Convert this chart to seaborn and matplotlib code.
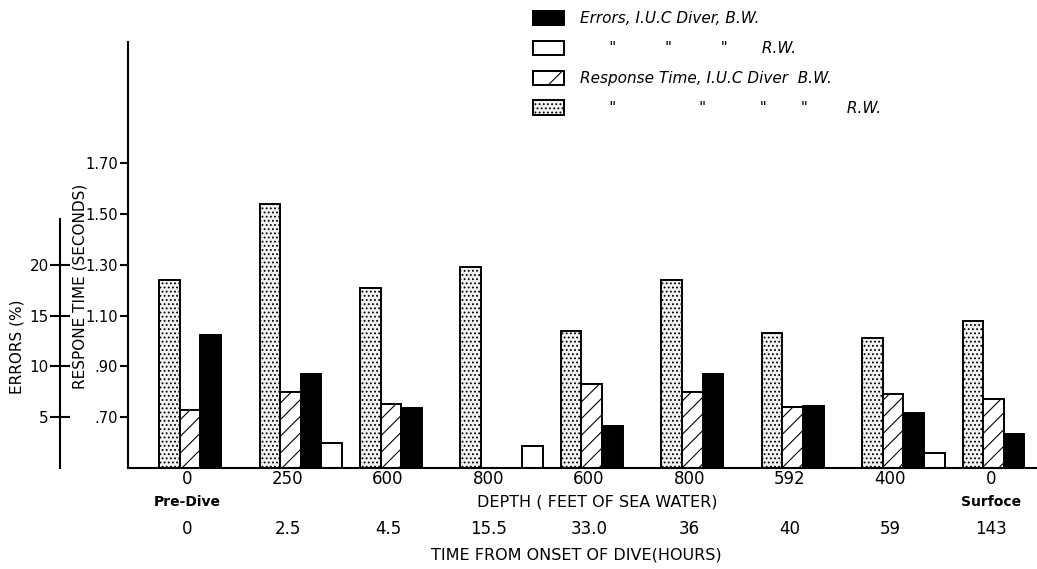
import numpy as np
import pandas as pd
import matplotlib
matplotlib.use("Agg")
import matplotlib.pyplot as plt
import matplotlib.patches as mpatches
import matplotlib.transforms as mtransforms
import seaborn as sns

# valores
depth_labels = ["0", "250", "600", "800", "600", "800", "592", "400", "0"]
depth_notes = ["Pre-Dive", "", "", "", "", "", "", "", "Surfoce"]
time_labels = ["0", "2.5", "4.5", "15.5", "33.0", "36", "40", "59", "143"]

# tiempo de respuesta (segundos)
rt_rw = [1.24, 1.54, 1.21, 1.29, 1.04, 1.24, 1.03, 1.01, 1.08]
rt_bw = [0.73, 0.80, 0.75, np.nan, 0.83, 0.80, 0.74, 0.79, 0.77]
# errores (%)
err_bw = [13.1, 9.3, 5.9, np.nan, 4.1, 9.3, 6.1, 5.4, 3.3]
err_rw = [np.nan, 2.5, np.nan, 2.2, np.nan, np.nan, np.nan, 1.5, np.nan]

series_names = ["rt_rw", "rt_bw", "err_bw", "err_rw"]


# 0 % de error coincide con 0.50 s, 5 % equivale a 0.20 s
def err_to_rt(e):
    return 0.5 + np.asarray(e, dtype=float) / 25.0


def rt_to_err(t):
    return (np.asarray(t, dtype=float) - 0.5) * 25.0


df = pd.DataFrame({
    "time": time_labels * 4,
    "serie": np.repeat(series_names, len(time_labels)),
    "valor": np.concatenate([rt_rw, rt_bw, err_to_rt(err_bw), err_to_rt(err_rw)]),
})

sns.set_style("white")
plt.rcParams["font.family"] = ["DejaVu Sans"]
plt.rcParams["hatch.linewidth"] = 0.8
for clave in ["text.color", "axes.labelcolor", "xtick.color", "ytick.color"]:
    plt.rcParams[clave] = "black"

fig = plt.figure(figsize=(10.37, 5.69), dpi=100)
ax = fig.add_axes([0.1231, 0.1775, 0.8769, 0.7487])

estilos = {
    "rt_rw": dict(face="#f2f2f2", hatch="...."),
    "rt_bw": dict(face="white", hatch="//"),
    "err_bw": dict(face="black", hatch=None),
    "err_rw": dict(face="white", hatch=None),
}

sns.barplot(
    data=df, x="time", y="valor", hue="serie",
    order=time_labels, hue_order=series_names,
    palette={k: v["face"] for k, v in estilos.items()},
    width=0.82, edgecolor="black", linewidth=1.4,
    saturation=1, legend=False, ax=ax,
)
for cont, nombre in zip(ax.containers, series_names):
    for barra in cont:
        barra.set_facecolor(estilos[nombre]["face"])
        if estilos[nombre]["hatch"]:
            barra.set_hatch(estilos[nombre]["hatch"])

ax.set_xlim(-0.723, 8.33)
ax.set_ylim(0.5, 2.177)
ax.set_xlabel("")
ax.set_ylabel("")
ax.set_xticks([])
sns.despine(ax=ax, top=True, right=True)
for lado in ["left", "bottom"]:
    ax.spines[lado].set_color("black")
    ax.spines[lado].set_linewidth(1.5)

rt_ticks = [0.70, 0.90, 1.10, 1.30, 1.50, 1.70]
ax.set_yticks(rt_ticks)
ax.set_yticklabels([".70", ".90", "1.10", "1.30", "1.50", "1.70"], fontsize=10.5)
ax.tick_params(axis="y", direction="out", length=6, width=1.5, color="black", pad=1, left=True)

# eje secundario de errores
sec = ax.secondary_yaxis(-0.0744, functions=(rt_to_err, err_to_rt))
sec.set_yticks([5, 10, 15, 20])
sec.set_yticklabels(["5", "10", "15", "20"], fontsize=11)
sec.tick_params(axis="y", direction="inout", length=14, width=1.5, color="black", pad=1)
sec.spines["left"].set_bounds(0, 24.5)
sec.spines["left"].set_linewidth(1.5)
sec.spines["left"].set_color("black")

fig.text(80 / 1037, 1 - 286 / 569, "RESPONE TIME (SECONDS)", rotation=90,
         ha="center", va="center", fontsize=11)
fig.text(17 / 1037, 1 - 347 / 569, "ERRORS (%)", rotation=90,
         ha="center", va="center", fontsize=11)

# filas de etiquetas bajo el eje
trans = mtransforms.blended_transform_factory(ax.transData, fig.transFigure)
desplaz = -0.13
for i in range(len(time_labels)):
    fig.text(i + desplaz, 1 - 479 / 569, depth_labels[i], transform=trans,
             ha="center", va="center", fontsize=12)
    if depth_notes[i]:
        fig.text(i + desplaz, 1 - 502 / 569, depth_notes[i], transform=trans,
                 ha="center", va="center", fontsize=10, fontweight="bold")
    fig.text(i + desplaz, 1 - 529 / 569, time_labels[i], transform=trans,
             ha="center", va="center", fontsize=12)

fig.text(597 / 1037, 1 - 502 / 569, "DEPTH ( FEET OF SEA WATER)",
         ha="center", va="center", fontsize=11.5)
fig.text(576 / 1037, 1 - 555 / 569, "TIME FROM ONSET OF DIVE(HOURS)",
         ha="center", va="center", fontsize=11.5)

# leyenda
handles = [
    mpatches.Patch(facecolor="black", edgecolor="black", linewidth=1.4),
    mpatches.Patch(facecolor="white", edgecolor="black", linewidth=1.4),
    mpatches.Patch(facecolor="white", edgecolor="black", linewidth=1.4, hatch="/"),
    mpatches.Patch(facecolor="#f2f2f2", edgecolor="black", linewidth=1.4, hatch="...."),
]
etiquetas = [
    "Errors, I.U.C Diver, B.W.",
    "      \"          \"          \"       R.W.",
    "Response Time, I.U.C Diver  B.W.",
    "      \"                 \"           \"       \"        R.W.",
]
leg = fig.legend(handles, etiquetas, loc="upper left",
                 bbox_to_anchor=(533 / 1037, 1 - 11 / 569),
                 frameon=False, borderpad=0, borderaxespad=0,
                 handlelength=2.0, handleheight=1.05, handletextpad=1.1,
                 labelspacing=0.95, prop={"size": 11, "style": "italic"})

fig.savefig("out.png", dpi=100)
